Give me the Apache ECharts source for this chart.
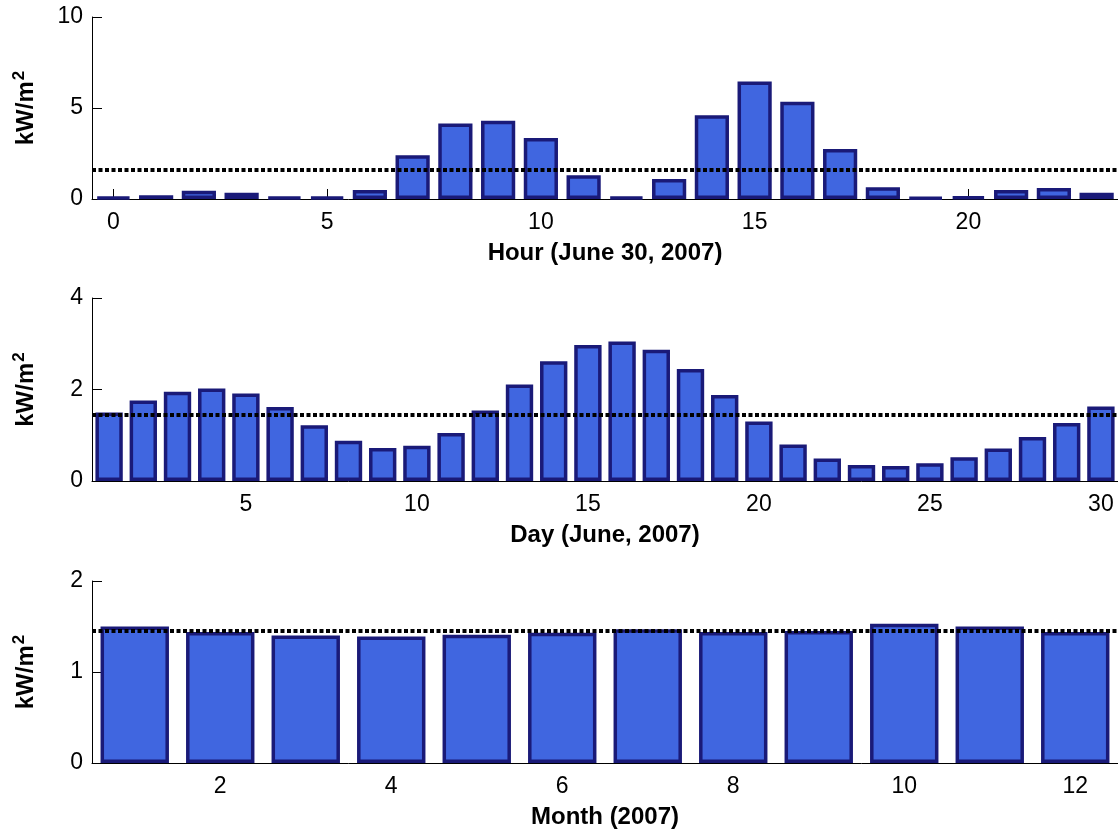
<!DOCTYPE html>
<html>
<head>
<meta charset="utf-8">
<script src="https://cdn.jsdelivr.net/npm/echarts@6/dist/echarts.min.js"></script>
<style>
html,body{margin:0;padding:0;background:#fff;}
#chart{width:1118px;height:832px;}
</style>
</head>
<body>
<div id="chart"></div>
<script>
// ---- data ----
const hourCategories = ['0','1','2','3','4','5','6','7','8','9','10','11','12','13','14','15','16','17','18','19','20','21','22','23'];
const hourValues = [0.1,0.2,0.45,0.35,0.1,0.1,0.5,2.4,4.15,4.3,3.35,1.3,0.1,1.1,4.6,6.45,5.35,2.75,0.65,0.08,0.15,0.5,0.6,0.35];
const hourAverage = 1.6;
const hourTickLabels = ['0','5','10','15','20'];

const dayCategories = ['1','2','3','4','5','6','7','8','9','10','11','12','13','14','15','16','17','18','19','20','21','22','23','24','25','26','27','28','29','30'];
const dayValues = [1.5,1.76,1.95,2.02,1.91,1.62,1.22,0.88,0.72,0.77,1.05,1.54,2.11,2.62,2.97,3.05,2.87,2.45,1.88,1.3,0.8,0.49,0.35,0.33,0.39,0.52,0.71,0.96,1.27,1.63];
const dayAverage = 1.44;
const dayTickLabels = ['5','10','15','20','25','30'];

const monthCategories = ['1','2','3','4','5','6','7','8','9','10','11','12'];
const monthValues = [1.5,1.44,1.4,1.39,1.41,1.43,1.47,1.44,1.45,1.53,1.5,1.44];
const monthAverage = 1.45;
const monthTickLabels = ['2','4','6','8','10','12'];

const xTitles = ['Hour (June 30, 2007)', 'Day (June, 2007)', 'Month (2007)'];
const yTitleBase = 'kW/m';
const yTitleSup = '2';
const yMax = [10, 4, 2];
const yInterval = [5, 2, 1];

// ---- chart ----
const FONT = '"Liberation Sans", Arial, sans-serif';
const chart = echarts.init(document.getElementById('chart'), null, {renderer: 'canvas'});

const panels = [
  {cats: hourCategories, vals: hourValues, avg: hourAverage, ticks: hourTickLabels},
  {cats: dayCategories, vals: dayValues, avg: dayAverage, ticks: dayTickLabels},
  {cats: monthCategories, vals: monthValues, avg: monthAverage, ticks: monthTickLabels}
];
const gridTops = [17, 298, 581];
const gridHeights = [182, 183, 182];

const grids = [], xAxes = [], yAxes = [], series = [];
panels.forEach((p, i) => {
  grids.push({left: 92, width: 1033, top: gridTops[i], height: gridHeights[i], containLabel: false});
  const showFn = (idx, val) => p.ticks.indexOf(String(val)) >= 0;
  xAxes.push({
    type: 'category', gridIndex: i, data: p.cats, boundaryGap: true,
    name: xTitles[i], nameLocation: 'middle', nameGap: 42,
    nameTextStyle: {fontFamily: FONT, fontWeight: 'bold', fontSize: 24, color: '#000'},
    axisLine: {show: true, lineStyle: {color: '#000', width: 1}},
    axisTick: {show: true, inside: true, length: 10, alignWithLabel: true, interval: showFn, lineStyle: {color: '#000'}},
    axisLabel: {show: true, interval: showFn, fontFamily: FONT, fontSize: 23, color: '#000', margin: 12},
    splitLine: {show: false}
  });
  yAxes.push({
    type: 'value', gridIndex: i, min: 0, max: yMax[i], interval: yInterval[i],
    name: '{b|' + yTitleBase + '}{s|' + yTitleSup + '}', nameLocation: 'middle', nameGap: 50,
    nameTextStyle: {
      fontFamily: FONT, fontWeight: 'bold', fontSize: 24, color: '#000',
      rich: {
        b: {fontFamily: FONT, fontWeight: 'bold', fontSize: 24, color: '#000'},
        s: {fontFamily: FONT, fontWeight: 'bold', fontSize: 17, color: '#000', padding: [0, 0, 14, 1]}
      }
    },
    axisLine: {show: true, lineStyle: {color: '#000', width: 1}},
    axisTick: {show: true, inside: true, length: 10, lineStyle: {color: '#000'}},
    axisLabel: {fontFamily: FONT, fontSize: 23, color: '#000', margin: 9},
    splitLine: {show: false}
  });
  series.push({
    type: 'bar', xAxisIndex: i, yAxisIndex: i, data: p.vals,
    barWidth: '80%',
    itemStyle: {color: '#4066e0', borderColor: '#1a1a78', borderWidth: 3.5},
    markLine: {
      silent: true, symbol: 'none', label: {show: false},
      lineStyle: {color: '#000', width: 4, type: [4, 2.5]},
      data: [{yAxis: p.avg}]
    }
  });
});

chart.setOption({
  animation: false,
  backgroundColor: '#fff',
  grid: grids,
  xAxis: xAxes,
  yAxis: yAxes,
  series: series
});
</script>
</body>
</html>
